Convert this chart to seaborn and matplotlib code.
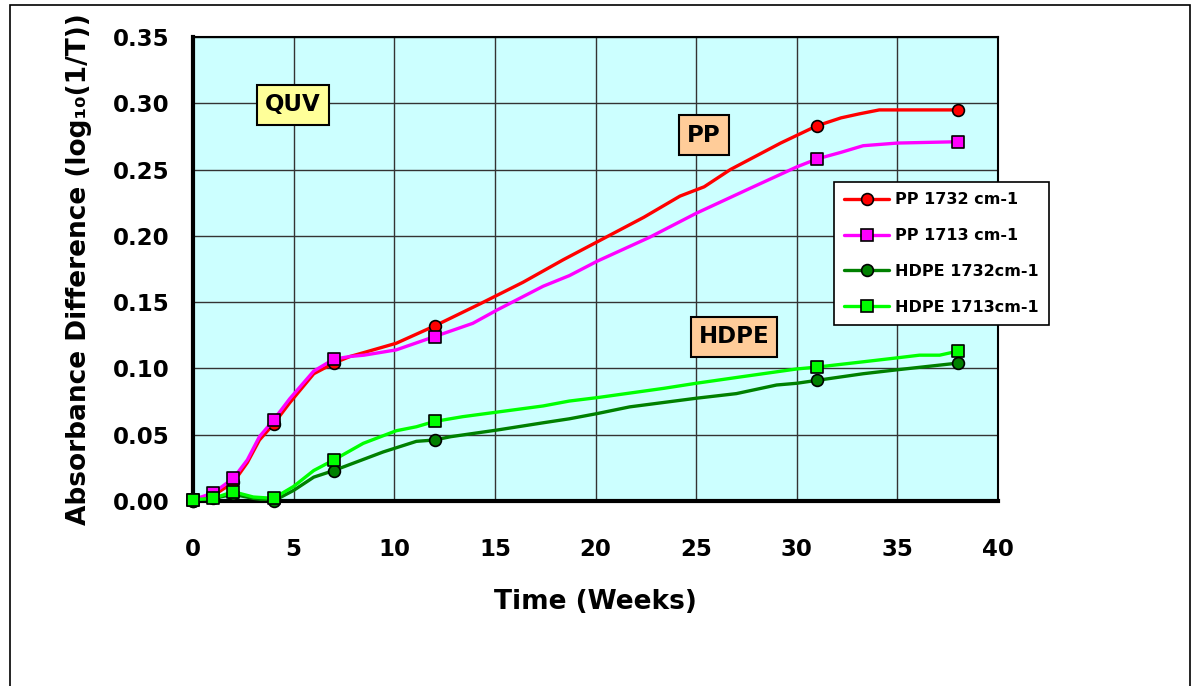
import numpy as np
import pandas as pd
import matplotlib
matplotlib.use("Agg")
import matplotlib.pyplot as plt
import seaborn as sns
from matplotlib.lines import Line2D
from matplotlib.patches import Rectangle
from matplotlib.ticker import MultipleLocator

# ---- measured data (markers) ----
weeks = [0, 1, 2, 4, 7, 12, 31, 38]
pp_1732 = [0.000, 0.004, 0.014, 0.058, 0.104, 0.132, 0.283, 0.295]
pp_1713 = [0.001, 0.006, 0.017, 0.061, 0.107, 0.124, 0.258, 0.271]
hdpe_1732 = [0.000, 0.002, 0.005, 0.000, 0.023, 0.046, 0.091, 0.104]
hdpe_1713 = [0.001, 0.002, 0.007, 0.002, 0.031, 0.060, 0.101, 0.113]

# ---- drawn trend curves ----
pp_1732_curve_x = [0, 1, 2, 2.7, 3.3, 4, 4.8, 6.0, 7, 7.8, 8.5, 10.1, 12, 14.3, 16.4, 18.4,
                   20.4, 22.4, 24.2, 25.4, 26.7, 29.2, 31, 32.2, 33.1, 34.1, 38]
pp_1732_curve_y = [0.000, 0.004, 0.014, 0.029, 0.046, 0.058, 0.074, 0.096, 0.104, 0.109, 0.112,
                   0.119, 0.132, 0.149, 0.165, 0.182, 0.198, 0.214, 0.230, 0.237, 0.250, 0.270,
                   0.283, 0.289, 0.292, 0.295, 0.295]
pp_1713_curve_x = [0, 1, 2, 2.7, 3.3, 4, 4.8, 6.0, 7, 7.8, 8.5, 10.1, 12, 13.9, 15.1, 17.4,
                   18.7, 20.1, 22.7, 25.0, 27.7, 30.0, 31, 32.2, 33.3, 35, 38]
pp_1713_curve_y = [0.001, 0.006, 0.017, 0.031, 0.0485, 0.061, 0.077, 0.098, 0.107, 0.109, 0.110,
                   0.114, 0.124, 0.134, 0.144, 0.162, 0.170, 0.181, 0.199, 0.217, 0.236, 0.252,
                   0.258, 0.263, 0.268, 0.270, 0.271]
hdpe_1732_curve_x = [0, 1, 2, 3, 4, 5, 6, 7, 9.45, 11.1, 12, 12.8, 15.1, 17.4, 18.7, 20.1,
                     21.7, 25.0, 27.0, 29.0, 30.0, 31, 33.3, 35, 38]
hdpe_1732_curve_y = [0.000, 0.002, 0.005, 0.002, 0.000, 0.008, 0.018, 0.023, 0.037, 0.045,
                     0.046, 0.0485, 0.0535, 0.059, 0.062, 0.066, 0.071, 0.0775, 0.081, 0.0875,
                     0.0888, 0.091, 0.096, 0.099, 0.104]
hdpe_1713_curve_x = [0, 1, 2, 3, 4, 5, 6, 7, 8.46, 10.1, 11.1, 12, 13.4, 17.4, 18.7, 20.1,
                     23.4, 25.0, 27.3, 30, 31, 33.3, 35, 36.1, 37.1, 38]
hdpe_1713_curve_y = [0.001, 0.002, 0.007, 0.003, 0.002, 0.011, 0.023, 0.031, 0.0435, 0.053,
                     0.056, 0.060, 0.0636, 0.0717, 0.0754, 0.078, 0.085, 0.0888, 0.0938,
                     0.0996, 0.101, 0.105, 0.108, 0.110, 0.110, 0.113]

series_names = ["PP 1732 cm-1", "PP 1713 cm-1", "HDPE 1732cm-1", "HDPE 1713cm-1"]
x_ticks = [0, 5, 10, 15, 20, 25, 30, 35, 40]
y_ticks = [0.00, 0.05, 0.10, 0.15, 0.20, 0.25, 0.30, 0.35]

sns.set_style("white")
plt.rcParams["font.family"] = ["DejaVu Sans"]
plt.rcParams["font.weight"] = "bold"
plt.rcParams["text.color"] = "black"
plt.rcParams["axes.labelcolor"] = "black"
plt.rcParams["xtick.color"] = "black"
plt.rcParams["ytick.color"] = "black"

fig = plt.figure(figsize=(11.96, 6.86), dpi=100)
ax = fig.add_axes([193 / 1196, 1 - 501 / 686, 805 / 1196, 464 / 686])
ax.set_facecolor("#CCFFFF")

colors = ["#FF0000", "#FF00FF", "#008000", "#00FF00"]
markers = ["o", "s", "o", "s"]
marker_vals = [pp_1732, pp_1713, hdpe_1732, hdpe_1713]
curves = [(pp_1732_curve_x, pp_1732_curve_y), (pp_1713_curve_x, pp_1713_curve_y),
          (hdpe_1732_curve_x, hdpe_1732_curve_y), (hdpe_1713_curve_x, hdpe_1713_curve_y)]

for i, (name, col, mk, vals, (cx, cy)) in enumerate(zip(series_names, colors, markers, marker_vals, curves)):
    dfc = pd.DataFrame({"x": cx, "y": cy})
    sns.lineplot(data=dfc, x="x", y="y", ax=ax, color=col, lw=2.4, sort=False,
                 estimator=None, zorder=3 + 2 * i, legend=False)
    dfm = pd.DataFrame({"x": weeks, "y": vals})
    sns.scatterplot(data=dfm, x="x", y="y", ax=ax, color=col, marker=mk, s=72,
                    edgecolor="black", linewidth=1.2, zorder=4 + 2 * i, legend=False,
                    clip_on=False)

ax.set_xlim(0, 40)
ax.set_ylim(0, 0.35)
ax.set_xticks(x_ticks)
ax.set_yticks(y_ticks)
ax.set_xticklabels([str(v) for v in x_ticks])
ax.set_yticklabels([f"{v:.2f}" for v in y_ticks])
ax.xaxis.set_minor_locator(MultipleLocator(1))
ax.yaxis.set_minor_locator(MultipleLocator(0.005))
ax.grid(True, which="major", color="#333333", lw=1.0)
ax.set_axisbelow(True)
ax.tick_params(axis="both", which="major", direction="out", length=8, width=2, color="black")
ax.tick_params(axis="both", which="minor", direction="in", length=6, width=1.8, color="black")
ax.tick_params(axis="x", which="major", labelsize=16.5, pad=19, labelcolor="black")
ax.tick_params(axis="y", which="major", labelsize=16.5, pad=9, labelcolor="black")
for lab in ax.get_xticklabels() + ax.get_yticklabels():
    lab.set_fontweight("bold")

for side in ["left", "bottom"]:
    ax.spines[side].set_linewidth(3)
    ax.spines[side].set_color("black")
for side in ["top", "right"]:
    ax.spines[side].set_linewidth(1.5)
    ax.spines[side].set_color("black")

ax.set_xlabel("Time (Weeks)", fontsize=19, fontweight="bold", labelpad=20, color="black")
ax.set_ylabel("Absorbance Difference (log\u2081\u2080(1/T))", fontsize=19,
              fontweight="bold", labelpad=15, color="black")

box_kw = dict(boxstyle="square,pad=0.35", ec="black", lw=1.5)
fig.text(293 / 1196, 1 - 105 / 686, "QUV", fontsize=16.5, fontweight="bold", ha="center",
         va="center", bbox=dict(fc="#FFFF99", **box_kw), zorder=20, color="black")
fig.text(704 / 1196, 1 - 135 / 686, "PP", fontsize=16.5, fontweight="bold", ha="center",
         va="center", bbox=dict(fc="#FFCC99", **box_kw), zorder=20, color="black")
fig.text(734 / 1196, 1 - 337 / 686, "HDPE", fontsize=16.5, fontweight="bold", ha="center",
         va="center", bbox=dict(fc="#FFCC99", **box_kw), zorder=20, color="black")

handles = [Line2D([0], [0], color=c, lw=2.4, marker=m, markersize=8.5,
                  markeredgecolor="black", markeredgewidth=1.2)
           for c, m in zip(colors, markers)]
leg = fig.legend(handles, series_names, loc="upper left",
                 bbox_to_anchor=(834 / 1196, 1 - 182 / 686), frameon=True, fancybox=False,
                 edgecolor="black", framealpha=1, prop=dict(size=11.5, weight="bold"),
                 handlelength=2.8, labelspacing=1.3, borderpad=0.65, handletextpad=0.35,
                 borderaxespad=0)
leg.get_frame().set_linewidth(1.2)
for t in leg.get_texts():
    t.set_color("black")

fig.patches.append(Rectangle((10 / 1196, -0.02), 1180 / 1196, 1.02 - 5 / 686,
                             transform=fig.transFigure, fill=False, ec="black", lw=1.2))

fig.savefig("out.png", dpi=100)
